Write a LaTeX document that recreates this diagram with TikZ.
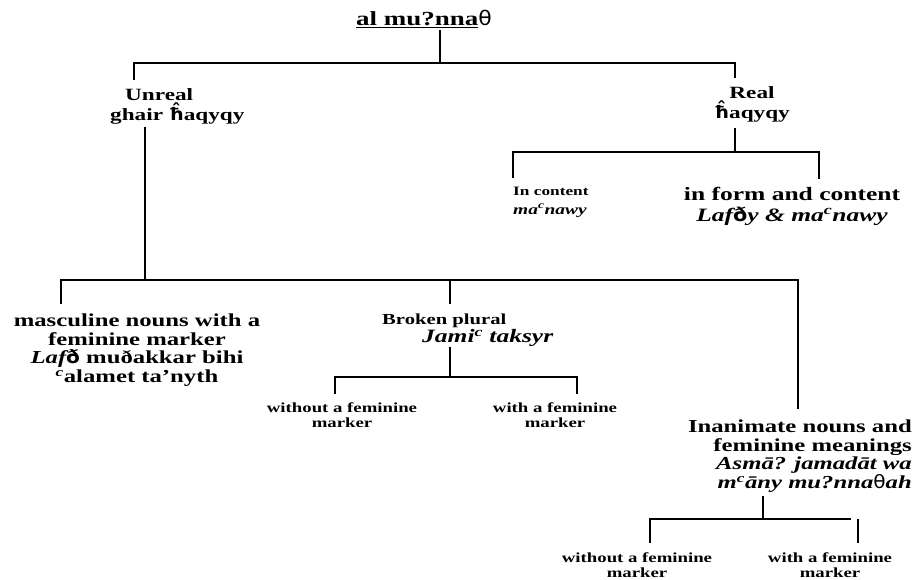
\documentclass[tikz,border=0pt]{standalone}
\usepackage{fontspec}
\setmainfont{Liberation Serif}[FakeStretch=1.35]
\newfontfamily\dvfont{DejaVu Sans}[FakeStretch=1.1]
\newcommand{\hhat}{{\dvfont\ooalign{ħ\cr\hidewidth\raisebox{.2em}{ˆ}\hidewidth\cr}}}
\newcommand{\ayn}{\textsuperscript{c}}
\usetikzlibrary{positioning}

\begin{document}
\begin{tikzpicture}[x=1pt, y=-1pt,
						% Define styles for the labels and the branches
						big node/.style={inner sep=0pt, align=center, font=\bfseries\fontsize{18.3}{18.7}\selectfont},
						mid node/.style={inner sep=0pt, align=center, font=\bfseries\fontsize{17.2}{20}\selectfont},
						small node/.style={inner sep=0pt, align=center, font=\bfseries\fontsize{13.9}{14.5}\selectfont},
						edge/.style={line width=1.3pt}
						]
						\useasboundingbox (0,0) rectangle (915,579);
						
						% Define and place your nodes
						\node[inner sep=0pt, font=\bfseries\fontsize{20}{22}\selectfont] (title) at (424,19) {\underline{al mu?nna}{\dvfont\mdseries θ}};
						\node[mid node, anchor=west, align=left] (unreal) at (110,106) {\hspace*{15pt}Unreal\\ghair \hhat aqyqy};
						\node[mid node] (real) at (752,104) {Real\\\hhat aqyqy};
						\node[inner sep=0pt, anchor=west, align=left, font=\bfseries\fontsize{12.8}{19}\selectfont] (incontent) at (513,202) {In content\\{\itshape\fontsize{14.4}{19}\selectfont ma\ayn{}nawy}};
						\node[big node, font=\bfseries\fontsize{18.9}{21}\selectfont] (inform) at (792,206) {in form and content\\{\itshape Laf{\dvfont\upshape ð}y \& ma\ayn{}nawy}};
						\node[big node] (masc) at (137,350) {masculine nouns with a\\feminine marker\\{\itshape Laf}{\dvfont ð} muðakkar bihi\\{\itshape\ayn}alamet ta’nyth};
						\node[inner sep=0pt, anchor=west, align=left, font=\bfseries\fontsize{15.3}{18}\selectfont] (broken) at (382,330) {Broken plural\\\hspace*{40pt}{\itshape\fontsize{18.9}{18}\selectfont Jami\ayn{} taksyr}};
						\node[small node] (withoutL) at (342,415) {without a feminine\\marker};
						\node[small node] (withL) at (555,415) {with a feminine\\marker};
						\node[big node, anchor=east, align=right] (inanim) at (912,456) {Inanimate nouns and\\feminine meanings\\{\itshape Asmā? jamadāt wa}\\{\itshape m\ayn{}āny mu?nna{\dvfont\upshape\mdseries θ}ah}};
						\node[small node] (withoutR) at (637,565) {without a feminine\\marker};
						\node[small node] (withR) at (830,565) {with a feminine\\marker};
						
						% Branch points
						\coordinate (top) at (440,63);
						\coordinate (topL) at (134,63);
						\coordinate (topR) at (735,63);
						\coordinate (realB) at (735,152);
						\coordinate (realL) at (513,152);
						\coordinate (realR) at (819,152);
						\coordinate (unrealB) at (145,280);
						\coordinate (midL) at (61,280);
						\coordinate (midC) at (450,280);
						\coordinate (midR) at (798,280);
						\coordinate (brokenB) at (450,377);
						\coordinate (brokenL) at (335,377);
						\coordinate (brokenR) at (577,377);
						\coordinate (inanimB) at (763,519);
						\coordinate (inanimL) at (650,519);
						\coordinate (inanimR) at (851,519);
						\coordinate (inanimRR) at (858,519);
						
						% --- Draw the edges ---
						\draw[edge] ([yshift=-2pt]title.south -| top) -- (top);
						\draw[edge] ([yshift=8pt]unreal.north -| topL) -- (topL) -- (topR) -- ([yshift=8pt]real.north -| topR);
						\draw[edge] ([yshift=-6pt]real.south -| realB) -- (realB);
						\draw[edge] ([yshift=9pt]incontent.north -| realL) -- (realL) -- (realR) -- ([yshift=8pt]inform.north -| realR);
						\draw[edge] ([yshift=-3pt]unreal.south -| unrealB) -- (unrealB);
						\draw[edge] ([yshift=9pt]masc.north -| midL) -- (midL) -- (midR) -- ([yshift=10pt]inanim.north -| midR);
						\draw[edge] (midC) -- ([yshift=9pt]broken.north -| midC);
						\draw[edge] (broken.south -| brokenB) -- (brokenB);
						\draw[edge] ([yshift=9pt]withoutL.north -| brokenL) -- (brokenL) -- (brokenR) -- ([yshift=9pt]withL.north -| brokenR);
						\draw[edge] ([yshift=-3pt]inanim.south -| inanimB) -- (inanimB);
						\draw[edge] ([yshift=10pt]withoutR.north -| inanimL) -- (inanimL) -- (inanimR);
						\draw[edge] (inanimRR) -- ([yshift=10pt]withR.north -| inanimRR);
					\end{tikzpicture}
\end{document}
